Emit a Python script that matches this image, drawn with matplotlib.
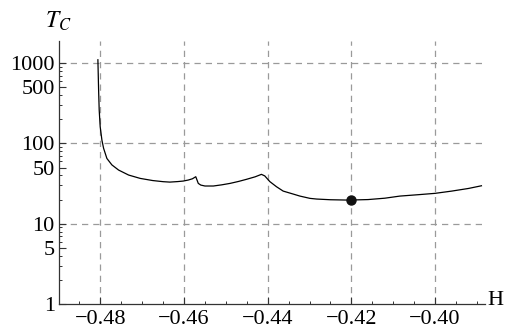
import matplotlib
matplotlib.use("Agg")
import matplotlib.pyplot as plt
from matplotlib.ticker import FixedLocator, NullFormatter, FuncFormatter

plt.rcParams['font.family'] = ['Liberation Serif', 'DejaVu Serif']
plt.rcParams['mathtext.fontset'] = 'stix'

# Data
H = [-0.4806, -0.48043, -0.48029, -0.48005, -0.47964, -0.47924, -0.47845,
     -0.47725, -0.47565, -0.47326, -0.47049, -0.4675, -0.4650, -0.4634,
     -0.4615, -0.4602, -0.4590, -0.4580, -0.4572, -0.4569, -0.4566, -0.4560,
     -0.455, -0.453, -0.451, -0.449, -0.447, -0.4451, -0.443, -0.4415, -0.4407,
     -0.4395, -0.4379, -0.4363, -0.4340, -0.4323, -0.4299, -0.4283, -0.425,
     -0.4207, -0.416, -0.412, -0.4084, -0.404, -0.400, -0.396, -0.392, -0.3889]
T = [1100, 462, 261, 161, 110, 87, 65,
     54, 46.6, 40.4, 36.7, 34.5, 33.4, 33,
     33.5, 34, 35, 36.3, 38.5, 35, 31.8, 30.3,
     29.5, 29.5, 30.5, 31.8, 33.6, 35.7, 38.4, 41.2, 39.4,
     33.5, 28.9, 25.5, 23.5, 22.1, 20.7, 20.3, 19.9,
     19.7, 20.0, 20.8, 22.1, 23.0, 23.9, 25.5, 27.5, 29.7]
point_H = [-0.42]
point_T = [19.7]

x_major = [-0.48, -0.46, -0.44, -0.42, -0.40]
y_major = [1, 5, 10, 50, 100, 500, 1000]
y_grid = [10, 100, 1000]

fig = plt.figure(figsize=(5.13, 3.36), dpi=100)
ax = fig.add_axes([0.115, 0.095, 0.83, 0.783])

ax.set_yscale('log')
ax.set_xlim(-0.4899, -0.3881)
ax.set_ylim(1, 1884)

gridkw = dict(color='#9a9a9a', lw=0.9, ls=(0, (5, 4)), zorder=1)
for xv in x_major:
    ax.axvline(xv, **gridkw)
for yv in y_grid:
    ax.axhline(yv, **gridkw)

ax.plot(H, T, color='black', lw=0.9, zorder=3)
ax.plot(point_H, point_T, 'o', color='#111111', ms=6.5, zorder=4)

for s in ['top', 'right']:
    ax.spines[s].set_visible(False)
for s in ['left', 'bottom']:
    ax.spines[s].set_color('#333333')
    ax.spines[s].set_linewidth(0.9)

ax.xaxis.set_major_locator(FixedLocator(x_major))
ax.xaxis.set_minor_locator(FixedLocator([-0.485 + 0.005 * i for i in range(20)]))
ax.xaxis.set_major_formatter(FuncFormatter(lambda v, p: f"{v:.2f}".replace('-', '\u2212')))

minors = []
for dec in [1, 10, 100, 1000]:
    for m in range(2, 10):
        v = m * dec
        if v not in y_major and v < 1884:
            minors.append(v)
ax.yaxis.set_major_locator(FixedLocator(y_major))
ax.yaxis.set_minor_locator(FixedLocator(minors))
ax.yaxis.set_major_formatter(FuncFormatter(lambda v, p: f"{int(v)}"))
ax.yaxis.set_minor_formatter(NullFormatter())

ax.tick_params(axis='both', which='major', direction='in', length=5, width=0.8,
               color='#333333', labelsize=16)
ax.tick_params(axis='both', which='minor', direction='in', length=2.5, width=0.7,
               color='#333333')
ax.tick_params(axis='x', which='major', pad=4)
ax.tick_params(axis='y', which='major', pad=3)

fig.text(0.9655, 0.106, 'H', fontsize=16, ha='center', va='center')
fig.text(0.113, 0.935, r'$T_C$', fontsize=17, ha='center', va='center')

fig.savefig('out.png', dpi=100)
